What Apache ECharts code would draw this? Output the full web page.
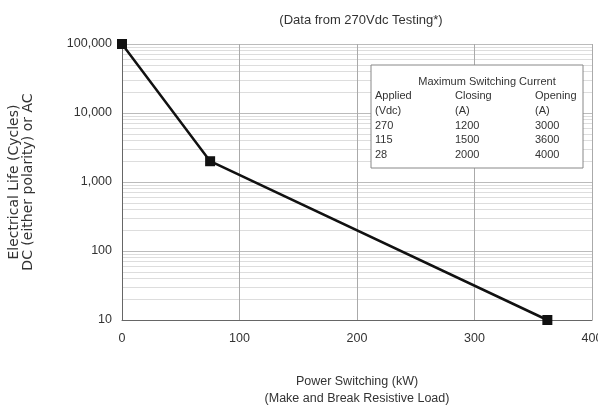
<!DOCTYPE html>
<html>
<head>
<meta charset="utf-8">
<script src="https://cdn.jsdelivr.net/npm/echarts@6/dist/echarts.min.js"></script>
<style>
html,body{margin:0;padding:0;background:#fff;}
#main{width:598px;height:408px;}
</style>
</head>
<body>
<div id="main"></div>
<script>
// curve points: power switching (kW) vs electrical life (cycles)
var powerKW = [0, 75, 362];
var cycles = [100000, 2000, 10];

// table: maximum switching current
var tableHead = ['Applied', 'Closing', 'Opening'];
var tableUnits = ['(Vdc)', '(A)', '(A)'];
var appliedVdc = ['270', '115', '28'];
var closingA = ['1200', '1500', '2000'];
var openingA = ['3000', '3600', '4000'];

var font = 'Liberation Sans, Arial, sans-serif';
var txt = '#333';

var chart1 = echarts.init(document.getElementById('main'));

var colX = [375, 455, 535];
var rowY = [96, 111, 126, 140, 155];
var tableText = [];
function addRow(vals, y) {
    for (var i = 0; i < vals.length; i++) {
        tableText.push({
            type: 'text', x: colX[i], y: y, z: 11,
            style: {text: vals[i], fill: txt, font: '11px ' + font,
                    align: 'left', verticalAlign: 'middle'}
        });
    }
}
addRow(tableHead, rowY[0]);
addRow(tableUnits, rowY[1]);
for (var r = 0; r < appliedVdc.length; r++) {
    addRow([appliedVdc[r], closingA[r], openingA[r]], rowY[r + 2]);
}

var option = {
    backgroundColor: '#fff',
    animation: false,
    title: {
        text: '(Data from 270Vdc Testing*)',
        left: 356, top: 9,
        textAlign: 'center',
        textStyle: {color: txt, fontSize: 13, fontWeight: 'normal', fontFamily: font}
    },
    grid: {left: 122, right: 6, top: 44, bottom: 88, outerBoundsMode: 'none'},
    xAxis: {
        type: 'value', min: 0, max: 400, interval: 100,
        name: 'Power Switching (kW)\n(Make and Break Resistive Load)',
        nameLocation: 'middle', nameGap: 53,
        nameTextStyle: {color: txt, fontSize: 12.5, fontFamily: font, lineHeight: 17},
        axisLine: {lineStyle: {color: '#666', width: 1}},
        axisTick: {show: false},
        axisLabel: {color: txt, fontSize: 12.5, fontFamily: font, margin: 12},
        splitLine: {show: true, lineStyle: {color: '#aaa', width: 1}}
    },
    yAxis: {
        type: 'log', logBase: 10, min: 10, max: 100000,
        name: 'Electrical Life (Cycles)\nDC (either polarity) or AC',
        nameLocation: 'middle', nameGap: 87, nameRotate: 90,
        nameTextStyle: {color: txt, fontSize: 14, fontFamily: 'DejaVu Sans, sans-serif', lineHeight: 14},
        axisLine: {show: true, lineStyle: {color: '#666', width: 1}},
        axisTick: {show: false},
        axisLabel: {
            color: txt, fontSize: 12.5, fontFamily: font, margin: 10,
            formatter: function (v) { return Math.round(v).toLocaleString('en-US'); }
        },
        splitLine: {show: true, lineStyle: {color: '#bbb', width: 1}},
        minorTick: {show: false, splitNumber: 9},
        minorSplitLine: {show: true, lineStyle: {color: '#ddd', width: 1}}
    },
    series: [{
        type: 'line',
        data: powerKW.map(function (x, i) { return [x, cycles[i]]; }),
        symbol: 'rect', symbolSize: 10,
        itemStyle: {color: '#111'},
        lineStyle: {color: '#111', width: 2.5},
        z: 5
    }],
    graphic: [
        {type: 'rect', shape: {x: 371, y: 65, width: 212, height: 103},
         style: {fill: '#fff', stroke: '#888', lineWidth: 1}, z: 10},
        {type: 'text', x: 487, y: 82, z: 11,
         style: {text: 'Maximum Switching Current', fill: txt, font: '11px ' + font,
                 align: 'center', verticalAlign: 'middle'}}
    ].concat(tableText)
};

chart1.setOption(option);
</script>
</body>
</html>
